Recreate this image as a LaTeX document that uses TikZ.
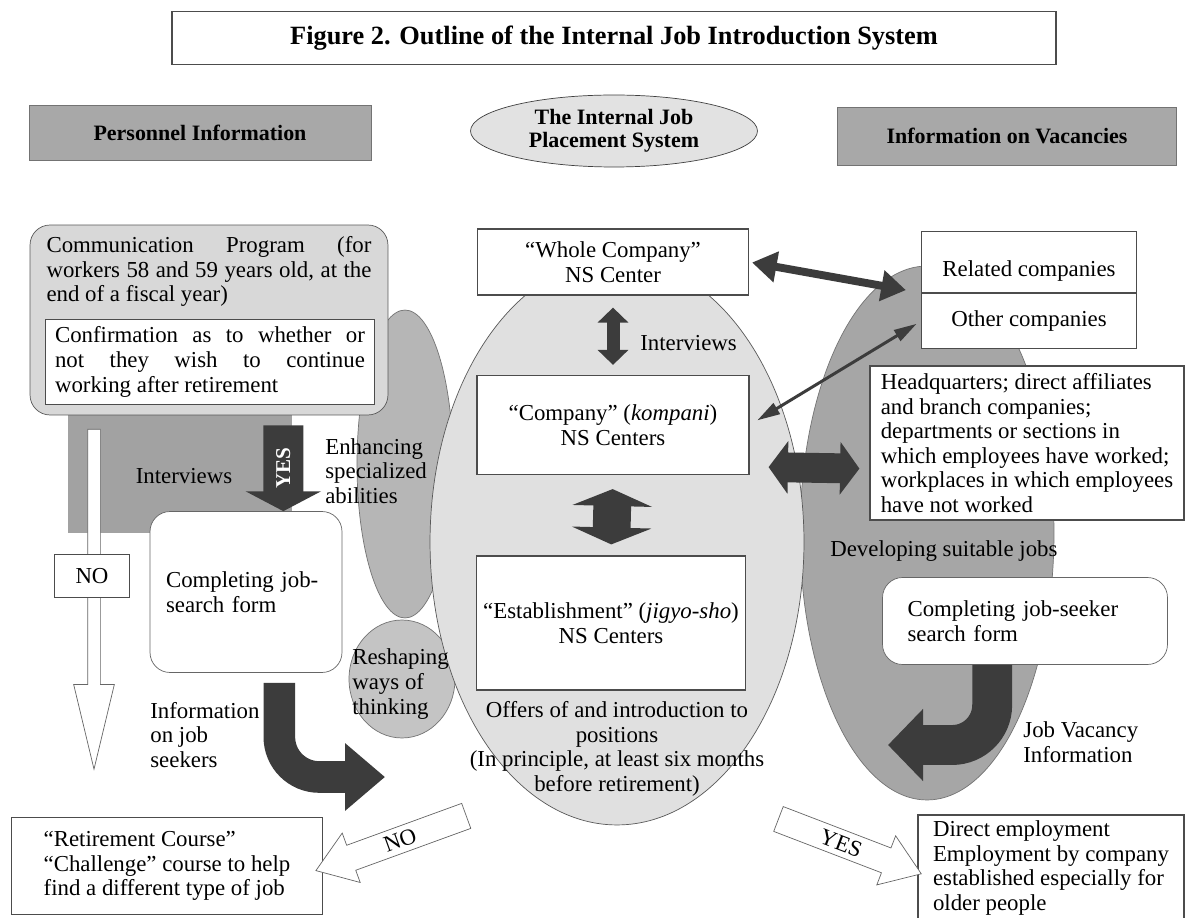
\documentclass[tikz,border=0pt]{standalone}
\usepackage{fontspec}
\setmainfont{Liberation Serif}
\usetikzlibrary{shapes,arrows.meta,positioning,calc}

\definecolor{headGray}{HTML}{A8A8A8}
\definecolor{commGray}{HTML}{D8D8D8}
\definecolor{regionGray}{HTML}{A2A2A2}
\definecolor{enhGray}{HTML}{B6B6B6}
\definecolor{reshGray}{HTML}{C4C4C4}
\definecolor{centerGray}{HTML}{E0E0E0}
\definecolor{rightGray}{HTML}{A6A6A6}
\definecolor{sysGray}{HTML}{E2E2E2}
\definecolor{arrowDark}{HTML}{3C3C3C}

\begin{document}
\begin{tikzpicture}
    [x=0.02cm, y=-0.02cm,
    every node/.style={font=\fontsize{13}{14}\selectfont},
    plain box/.style 2 args={
        draw=black!70,
        fill=white,
        line width=0.7pt,
        minimum width=#1,
        minimum height=#2,
        align=left
    },
    head box/.style 2 args={
        draw=black!55,
        fill=headGray,
        minimum width=#1,
        minimum height=#2,
        font=\fontsize{12.5}{14}\selectfont\bfseries
    },
    form box/.style 2 args={
        draw=black!60,
        fill=white,
        rounded corners=0.4cm,
        minimum width=#1,
        minimum height=#2,
        align=left
    },
    oval/.style={ellipse, inner sep=0pt, draw=black!55},
    text label/.style={inner sep=0pt, align=left},
    fat arrow/.style n args={3}{
        draw=arrowDark,
        line width=#1,
        -{Triangle[length=#2,width=#3]}
    },
    fat double/.style n args={3}{
        draw=arrowDark,
        line width=#1,
        {Triangle[length=#2,width=#3]}-{Triangle[length=#2,width=#3]}
    },
    hollow arrow/.style={
        single arrow,
        draw=black!60,
        fill=white,
        inner xsep=2pt,
        inner ysep=3pt,
        single arrow head extend=0.26cm,
        single arrow tip angle=70,
        minimum height=#1
    }]

    \fill[white] (0,0) rectangle (1186,918);
    \useasboundingbox (0,0) rectangle (1186,918);

    %%% headings
    \node (title) [plain box={17.68cm}{1.06cm}, font=\fontsize{15}{17}\selectfont\bfseries] at (614,38) {Figure 2. Outline of the Internal Job Introduction System};
    \node (persInfo) [head box={6.84cm}{1.1cm}] at (200,133) {Personnel Information};
    \node (placeSys) [oval, fill=sysGray, draw=black!75, minimum width=5.74cm, minimum height=1.44cm, align=center, font=\fontsize{12.5}{13}\selectfont\bfseries] at (614,131) {The Internal Job\\Placement System};
    \node (vacInfo) [head box={6.78cm}{1.16cm}] at (1007,136) {Information on Vacancies};

    %%% background shapes
    \node (rightOval) [oval, fill=rightGray, minimum width=5.08cm, minimum height=10.68cm] at (927,533) {};
    \node (enhOval) [oval, fill=enhGray, minimum width=1.92cm, minimum height=6.16cm] at (405,464) {};
    \node (reshOval) [oval, fill=reshGray, minimum width=2.12cm, minimum height=2.36cm] at (402,679) {};
    \node (centerOval) [oval, fill=centerGray, draw=black!65, minimum width=7.48cm, minimum height=11.32cm] at (617,542) {};
    \fill[regionGray] (68,405) rectangle (292,533);

    %%% personnel side
    \node (comm) [form box={7.16cm}{3.8cm}, fill=commGray, draw=black!65] at (209,320) {};
    \node (commText) [text label, text width=6.5cm, align=justify, anchor=north] at (209,236) {Communication Program (for\linebreak workers 58 and 59 years old, at the\linebreak end of a fiscal year)};
    \node (confirm) [plain box={6.58cm}{1.7cm}, text width=6.2cm, align=justify] at (210,362) {Confirmation as to whether or\linebreak not they wish to continue\linebreak working after retirement};

    \node (noArrow) [single arrow, draw=black!60, fill=white, rotate=-90, minimum height=6.8cm, inner sep=0.12cm, single arrow head extend=0.28cm, single arrow tip angle=27] at (94,586) {};
    \node (noBox) [plain box={1.5cm}{0.86cm}] at (92,576) {NO};

    \node (jobForm) [form box={3.84cm}{3.22cm}, text width=3.2cm] at (246,592) {Completing job-\\search form};
    \node (leftInterviews) [text label] at (184,476) {Interviews};
    \node (enhText) [text label, anchor=west] at (325,471) {Enhancing\\specialized\\abilities};
    \node (reshText) [text label, anchor=west] at (352,684) {Reshaping\\ways of\\thinking};
    \node (infoText) [text label, anchor=west] at (150,735) {Information\\on job\\seekers};
    \coordinate (infoTip) at (385,777);

    %%% placement centers
    \node (whole) [plain box={5.42cm}{1.32cm}, align=center] at (613,262) {``Whole Company''\\NS Center};
    \node (company) [plain box={5.44cm}{1.98cm}, align=center] at (613,425) {``Company'' (\textit{kompani})\\NS Centers};
    \node (establish) [plain box={5.38cm}{2.68cm}, align=center] at (611,623) {``Establishment'' (\textit{jigyo-sho})\\NS Centers};
    \node (midInterviews) [text label, anchor=west] at (640,343) {Interviews};
    \node (offers) [text label, align=center] at (617,749) {Offers of and introduction to\\positions\\(In principle, at least six months\\before retirement)};

    %%% vacancies side
    \node (related) [plain box={4.3cm}{1.22cm}, text height=16pt, text depth=0pt] at (1029,262) {Related companies};
    \node (other) [plain box={4.3cm}{1.1cm}, below=0pt of related] {Other companies};
    \node (hq) [plain box={6.28cm}{3.08cm}] at (1027,443) {Headquarters; direct affiliates\\and branch companies;\\departments or sections in\\which employees have worked;\\workplaces in which employees\\have not worked};
    \node (devText) [text label, anchor=west] at (830,551) {Developing suitable jobs};
    \node (seekForm) [form box={5.7cm}{1.74cm}, text width=4.7cm] at (1025,621) {Completing job-seeker\\search form};
    \node (vacText) [text label, anchor=west] at (1023,742) {Job Vacancy\\Information};
    \coordinate (vacTip) at (888,745);

    %%% outcomes
    \node (retire) [plain box={6.22cm}{1.94cm}] at (167,866) {``Retirement Course''\\``Challenge'' course to help\\find a different type of job};
    \node (direct) [plain box={5.32cm}{2.12cm}] at (1051,868) {Direct employment\\Employment by company\\established especially for\\older people};
    \node (noDiag) [hollow arrow=3.2cm, rotate=20, shape border rotate=180] at (400,840) {NO};
    \node (yesDiag) [hollow arrow=3.06cm, rotate=-21] at (841,843) {YES};

    %% lines
    \draw[fat arrow={22.7pt}{11.3pt}{42.5pt}] ($(comm.south east)+(-105,10)$) -- node[rotate=90, text=white, font=\fontsize{12}{12}\selectfont\bfseries] {YES} ($(jobForm.north east)+(-59,0)$);
    \draw[fat arrow={18pt}{22.7pt}{37pt}, rounded corners=0.8cm] ($(jobForm.south east)+(-63,10)$) |- (infoTip);
    \draw[fat arrow={22.7pt}{20pt}{40pt}, rounded corners=0.8cm] ($(seekForm.south west)+(110,0)$) |- (vacTip);
    \draw[fat double={7.4pt}{8.5pt}{17pt}, shorten <=0.24cm, shorten >=0.2cm] (whole.south) -- (company.north);
    \draw[fat double={21.5pt}{9.6pt}{45pt}, shorten <=0.28cm, shorten >=0.22cm] (company.south) -- (establish.north);
    \draw[fat double={4.5pt}{14pt}{17pt}, shorten <=0.06cm] (whole.east) -- ($(related.south west)+(-15,-3)$);
    \draw[fat double={1.7pt}{13pt}{7pt}, shorten <=0.18cm, shorten >=0.1cm] (company.east) -- (other.west);
    \draw[fat double={17pt}{11pt}{29.5pt}] ($(company.south east)+(19,-8)$) -- ($(hq.south west)+(-10,-52)$);
\end{tikzpicture}
\end{document}
